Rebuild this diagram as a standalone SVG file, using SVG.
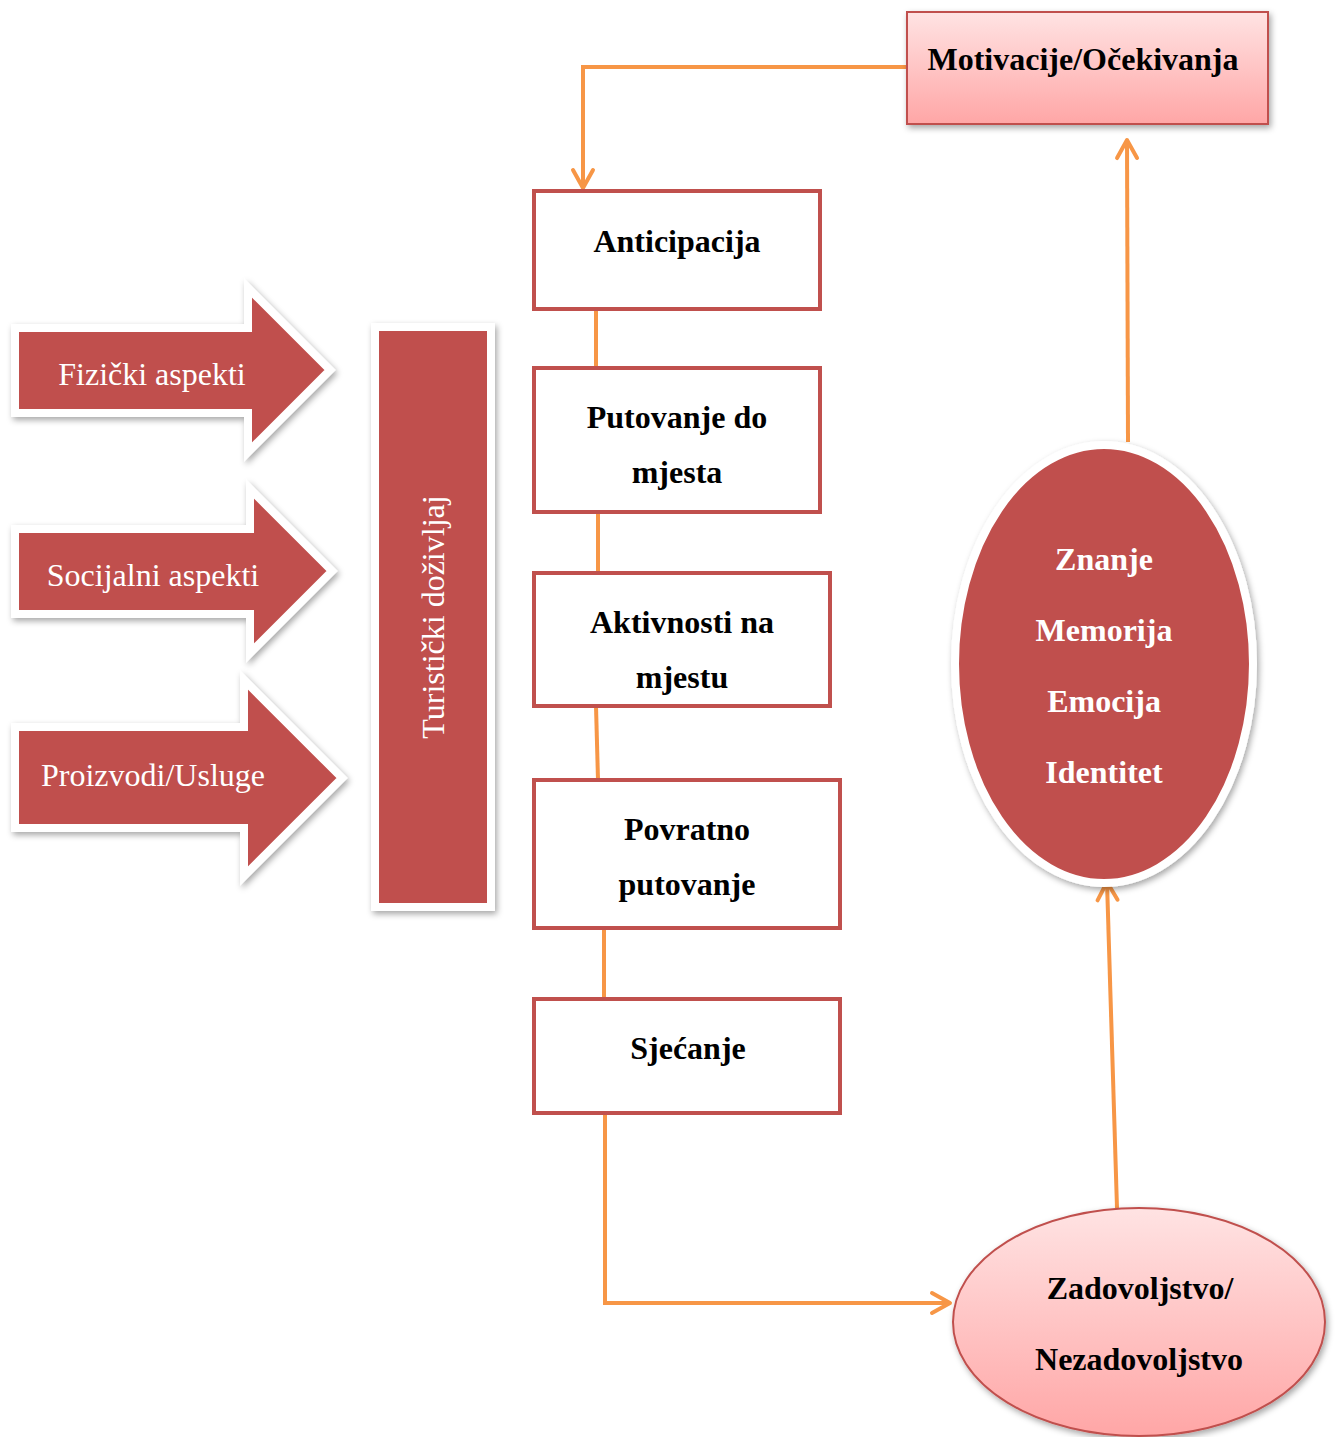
<svg xmlns="http://www.w3.org/2000/svg" width="1336" height="1437" viewBox="0 0 1336 1437">
<defs>
<linearGradient id="pink" x1="0" y1="0" x2="0" y2="1">
<stop offset="0" stop-color="#ffe3e3"/>
<stop offset="1" stop-color="#ffa6a6"/>
</linearGradient>
<filter id="sh" x="-10%" y="-10%" width="125%" height="125%">
<feDropShadow dx="2" dy="3" stdDeviation="3" flood-color="#000" flood-opacity="0.35"/>
</filter>
<marker id="chevL" markerWidth="26" markerHeight="26" viewBox="0 0 26 26" refX="22" refY="13" orient="auto" markerUnits="userSpaceOnUse">
<path d="M4,3 L22,13 L4,23" fill="none" stroke="#f79646" stroke-width="4" stroke-linecap="round" stroke-linejoin="round"/>
</marker>
</defs>
<style>
.box{fill:#fff;stroke:#c0504d;stroke-width:4}
.lbl{font-family:"Liberation Serif","Times New Roman",serif;font-weight:bold;font-size:32px;fill:#000;text-anchor:middle}
.wlbl{font-family:"Liberation Serif","Times New Roman",serif;font-weight:bold;font-size:32px;fill:#fff;text-anchor:middle}
.alb{font-family:"Liberation Serif","Times New Roman",serif;font-size:32px;fill:#fff;text-anchor:middle}
.conn{fill:none;stroke:#f79646;stroke-width:4}
.arrow{fill:#c0504d;stroke:#fff;stroke-width:8;stroke-linejoin:miter}
</style>

<g id="connectors">
<polyline class="conn" points="907,67 583,67 583,188" marker-end="url(#chevL)"/>
<line class="conn" x1="596" y1="309" x2="596" y2="368"/>
<line class="conn" x1="598" y1="512" x2="598" y2="573"/>
<line class="conn" x1="596" y1="706" x2="598" y2="780"/>
<line class="conn" x1="604" y1="928" x2="604" y2="999"/>
<polyline class="conn" points="605,1113 605,1303 950,1303" marker-end="url(#chevL)"/>
<line class="conn" x1="1117" y1="1208" x2="1107" y2="882" marker-end="url(#chevL)"/>
<line class="conn" x1="1128" y1="442" x2="1127" y2="140" marker-end="url(#chevL)"/>
</g>

<g id="motivacije">
<rect x="907" y="12" width="361" height="112" fill="url(#pink)" stroke="#c0504d" stroke-width="2" filter="url(#sh)"/>
<text class="lbl" x="1083" y="70">Motivacije/Očekivanja</text>
</g>

<g id="anticipacija">
<rect class="box" x="534" y="191" width="286" height="118"/>
<text class="lbl" x="677" y="252">Anticipacija</text>
</g>

<g id="putovanje">
<rect class="box" x="534" y="368" width="286" height="144"/>
<text class="lbl" x="677" y="428">Putovanje do</text>
<text class="lbl" x="677" y="483">mjesta</text>
</g>

<g id="aktivnosti">
<rect class="box" x="534" y="573" width="296" height="133"/>
<text class="lbl" x="682" y="633">Aktivnosti na</text>
<text class="lbl" x="682" y="688">mjestu</text>
</g>

<g id="povratno">
<rect class="box" x="534" y="780" width="306" height="148"/>
<text class="lbl" x="687" y="840">Povratno</text>
<text class="lbl" x="687" y="895">putovanje</text>
</g>

<g id="sjecanje">
<rect class="box" x="534" y="999" width="306" height="114"/>
<text class="lbl" x="688" y="1059">Sjećanje</text>
</g>

<g id="zadovoljstvo">
<ellipse cx="1139" cy="1322" rx="186" ry="114" fill="url(#pink)" stroke="#c0504d" stroke-width="2" filter="url(#sh)"/>
<text class="lbl" x="1140" y="1299">Zadovoljstvo/</text>
<text class="lbl" x="1139" y="1370">Nezadovoljstvo</text>
</g>

<g id="znanje">
<ellipse cx="1104" cy="664" rx="149" ry="219" fill="#c0504d" stroke="#fff" stroke-width="8" filter="url(#sh)"/>
<text class="wlbl" x="1104" y="570">Znanje</text>
<text class="wlbl" x="1104" y="641">Memorija</text>
<text class="wlbl" x="1104" y="712">Emocija</text>
<text class="wlbl" x="1104" y="783">Identitet</text>
</g>

<g id="fizicki">
<path class="arrow" filter="url(#sh)" d="M15,328 L248,328 L248,288 L330,370 L248,452 L248,413 L15,413 Z"/>
<text class="alb" x="152" y="385">Fizički aspekti</text>
</g>

<g id="socijalni">
<path class="arrow" filter="url(#sh)" d="M15,529 L250,529 L250,489 L332,571 L250,653 L250,614 L15,614 Z"/>
<text class="alb" x="153" y="586">Socijalni aspekti</text>
</g>

<g id="proizvodi">
<path class="arrow" filter="url(#sh)" d="M15,727 L244,727 L244,680 L342,778 L244,876 L244,828 L15,828 Z"/>
<text class="alb" x="153" y="786">Proizvodi/Usluge</text>
</g>

<g id="turisticki">
<rect x="375" y="327" width="116" height="580" fill="#c0504d" stroke="#fff" stroke-width="8" filter="url(#sh)"/>
<text class="alb" transform="translate(444,617) rotate(-90)">Turistički doživljaj</text>
</g>
</svg>
